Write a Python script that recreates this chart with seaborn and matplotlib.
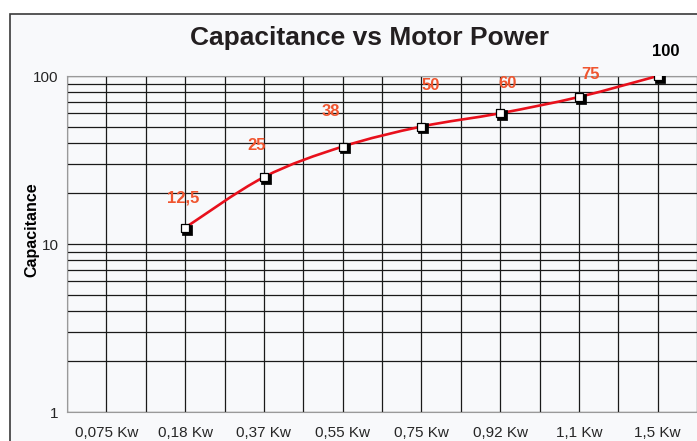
import matplotlib
matplotlib.use("Agg")
import matplotlib.pyplot as plt
import numpy as np
import seaborn as sns
from matplotlib.path import Path
from matplotlib.patches import PathPatch, Rectangle

# chart data
powers = ["0,075 Kw", "0,18 Kw", "0,37 Kw", "0,55 Kw", "0,75 Kw", "0,92 Kw", "1,1 Kw", "1,5 Kw"]
cap_idx = [1, 2, 3, 4, 5, 6, 7]
capacitance = [12.5, 25, 38, 50, 60, 75, 100]
cap_labels = ["12,5", "25", "38", "50", "60", "75", "100"]
# label offsets in pixels (Excel placed them by hand)
label_dx = [-2, -7, -12, 9, 7, 12, 8]
label_dy = [30, 32, 35, 41, 30, 22, 25]

sns.set_style("white")
plt.rcParams["font.family"] = ["Liberation Sans", "DejaVu Sans"]

fig = plt.figure(figsize=(6.97, 4.41), dpi=100)
fig.patch.set_facecolor("white")
bg = "#f8f9fb"
frame = Rectangle((10 / 697, -0.1), 1.2, (441 - 14) / 441 + 0.1,
                  transform=fig.transFigure, facecolor=bg,
                  edgecolor="#3a3a3a", linewidth=1.2, zorder=-5)
fig.patches.append(frame)
ax = fig.add_axes([67 / 697, 1 - 412 / 441, 1 - 67 / 697, (412 - 76) / 441])
ax.set_facecolor(bg)

ax.set_yscale("log")
ax.set_ylim(1, 100)
ax.set_xlim(-0.5, len(powers) - 0.5)

# gridlines: category centres and boundaries, log majors and minors
ax.set_xticks(range(len(powers)))
ax.set_xticklabels(powers, fontsize=11)
ax.set_xticks(np.arange(-0.5, len(powers)), minor=True)
ax.grid(True, which="both", axis="both", color="#1a1a1a", linewidth=0.9)
ax.tick_params(axis="x", which="major", length=0, pad=10)
ax.tick_params(axis="x", which="minor", length=4, color="#888888", direction="out")
ax.tick_params(axis="y", which="major", length=4, color="#888888", labelsize=11, pad=2)
ax.tick_params(axis="y", which="minor", length=3, color="#888888")
ax.yaxis.set_major_formatter(matplotlib.ticker.FuncFormatter(lambda v, p: f"{v:g}"))
ax.yaxis.set_minor_formatter(matplotlib.ticker.NullFormatter())
ax.set_axisbelow(True)
for side in ["left", "bottom", "top"]:
    ax.spines[side].set_color("#9a9a9a")
ax.spines["right"].set_visible(False)

# smoothed line (Excel style bezier through the points)
xs = np.array(cap_idx, dtype=float)
ls = np.log10(capacitance)
verts = [(xs[0], capacitance[0])]
codes = [Path.MOVETO]
n = len(xs)
for i in range(n - 1):
    p0 = max(i - 1, 0)
    p3 = min(i + 2, n - 1)
    c1x = xs[i] + (xs[i + 1] - xs[p0]) / 6
    c1y = ls[i] + (ls[i + 1] - ls[p0]) / 6
    c2x = xs[i + 1] - (xs[p3] - xs[i]) / 6
    c2y = ls[i + 1] - (ls[p3] - ls[i]) / 6
    verts += [(c1x, 10 ** c1y), (c2x, 10 ** c2y), (xs[i + 1], capacitance[i + 1])]
    codes += [Path.CURVE4] * 3
ax.add_patch(PathPatch(Path(verts, codes), facecolor="none", edgecolor="#e8101c",
                       linewidth=1.9, zorder=3))

# markers with a little shadow
sns.scatterplot(x=[x + 0.025 for x in cap_idx], y=[c * 0.975 for c in capacitance],
                marker="s", s=42, color="black", edgecolor="black", ax=ax, zorder=4)
sns.scatterplot(x=cap_idx, y=capacitance, marker="s", s=36, color="white",
                edgecolor="black", linewidth=0.9, ax=ax, zorder=5)

for x, y, t, dx, dy in zip(cap_idx, capacitance, cap_labels, label_dx, label_dy):
    col = "black" if t == "100" else "#f0552f"
    ax.annotate(t, (x, y), xytext=(dx, dy), textcoords="offset pixels",
                ha="center", va="center", fontsize=12, fontweight="bold",
                color=col, annotation_clip=False, zorder=6)

ax.set_xlabel("")
ax.set_ylabel("")
fig.text(32 / 697, 1 - 230 / 441, "Capacitance", rotation=90, ha="center",
         va="center", fontsize=11.5, fontweight="bold", color="black")
fig.text(370 / 697, 1 - 38 / 441, "Capacitance vs Motor Power", ha="center",
         va="center", fontsize=19, fontweight="bold", color="#231f20")

fig.savefig("out.png", dpi=100)
